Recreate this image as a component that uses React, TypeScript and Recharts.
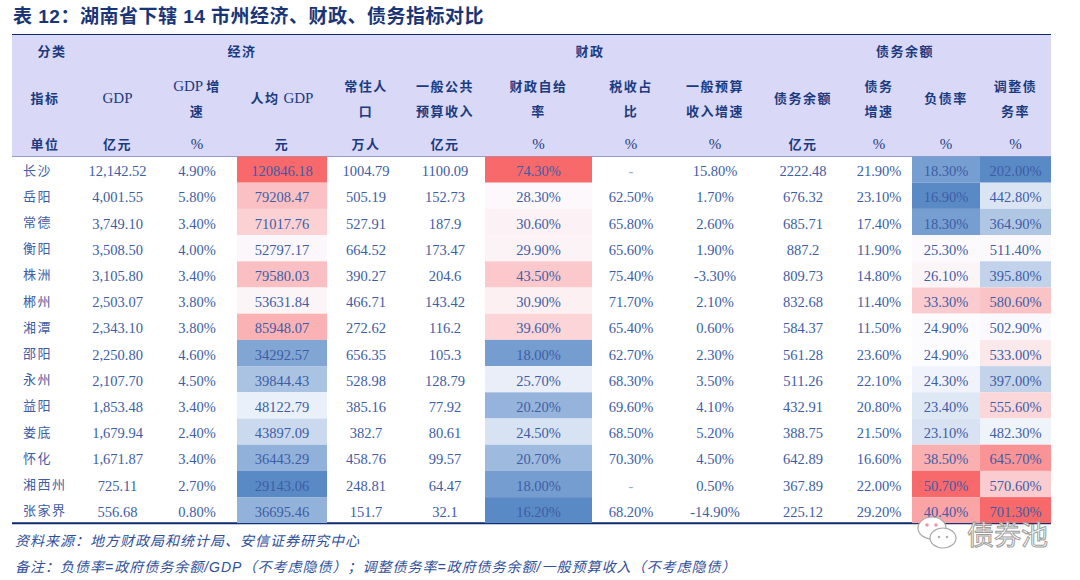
import React from "react";
import { ScatterChart, Scatter, XAxis, YAxis, ReferenceLine } from "recharts";

const cities = ["长沙", "岳阳", "常德", "衡阳", "株洲", "郴州", "湘潭", "邵阳", "永州", "益阳", "娄底", "怀化", "湘西州", "张家界"];
const gdp = [12142.52, 4001.55, 3749.1, 3508.5, 3105.8, 2503.07, 2343.1, 2250.8, 2107.7, 1853.48, 1679.94, 1671.87, 725.11, 556.68];
const gdpGrowth = [4.9, 5.8, 3.4, 4.0, 3.4, 3.8, 3.8, 4.6, 4.5, 3.4, 2.4, 3.4, 2.7, 0.8];
const gdpPerCapita = [120846.18, 79208.47, 71017.76, 52797.17, 79580.03, 53631.84, 85948.07, 34292.57, 39844.43, 48122.79, 43897.09, 36443.29, 29143.06, 36695.46];
const population = [1004.79, 505.19, 527.91, 664.52, 390.27, 466.71, 272.62, 656.35, 528.98, 385.16, 382.7, 458.76, 248.81, 151.7];
const budgetRevenue = [1100.09, 152.73, 187.9, 173.47, 204.6, 143.42, 116.2, 105.3, 128.79, 77.92, 80.61, 99.57, 64.47, 32.1];
const selfSufficiency = [74.3, 28.3, 30.6, 29.9, 43.5, 30.9, 39.6, 18.0, 25.7, 20.2, 24.5, 20.7, 18.0, 16.2];
const taxShare: (number | null)[] = [null, 62.5, 65.8, 65.6, 75.4, 71.7, 65.4, 62.7, 68.3, 69.6, 68.5, 70.3, null, 68.2];
const revenueGrowth = [15.8, 1.7, 2.6, 1.9, -3.3, 2.1, 0.6, 2.3, 3.5, 4.1, 5.2, 4.5, 0.5, -14.9];
const debt = [2222.48, 676.32, 685.71, 887.2, 809.73, 832.68, 584.37, 561.28, 511.26, 432.91, 388.75, 642.89, 367.89, 225.12];
const debtGrowth = [21.9, 23.1, 17.4, 11.9, 14.8, 11.4, 11.5, 23.6, 22.1, 20.8, 21.5, 16.6, 22.0, 29.2];
const debtRatio = [18.3, 16.9, 18.3, 25.3, 26.1, 33.3, 24.9, 24.9, 24.3, 23.4, 23.1, 38.5, 50.7, 40.4];
const adjDebtRatio = [202.0, 442.8, 364.9, 511.4, 395.8, 580.6, 502.9, 533.0, 397.0, 555.6, 482.3, 645.7, 570.6, 701.3];

const groups = ["分类", "经济", "财政", "债务余额"];
const indicators = [["指标"], ["GDP"], ["GDP 增", "速"], ["人均 GDP"], ["常住人", "口"], ["一般公共", "预算收入"], ["财政自给", "率"], ["税收占", "比"], ["一般预算", "收入增速"], ["债务余额"], ["债务", "增速"], ["负债率"], ["调整债", "务率"]];
const units = ["单位", "亿元", "%", "元", "万人", "亿元", "%", "%", "%", "亿元", "%", "%", "%"];

// ---- layout ----
const COL_W = [66, 79, 80, 90, 78, 80, 107, 78, 90, 86, 66, 68, 71];
const GROUP_X = [40, 230, 578, 893];
const LEFT = 12;
const TOP = 35;
const BODY_TOP = 156.5;
const ROW_H = 26.2;
const BOTTOM = BODY_TOP + cities.length * ROW_H;

const HEAD_BG = "#d9d9f7";
const LINE = "#0e2a6e";
const HEAD_TXT = "#1b3a80";
const BODY_TXT = "#3d5da6";
const SERIF = "'Liberation Serif', 'Times New Roman', serif";
const CJK = "'Noto Sans CJK SC', sans-serif";

const colX: number[] = [];
let acc = 0;
COL_W.forEach((w) => {
  colX.push(acc + w / 2);
  acc += w;
});
const TABLE_W = acc;
const u = (px: number) => (px - BODY_TOP) / ROW_H;

// Excel style blue-white-red scale, midpoint = median
const LOW = [90, 138, 198];
const MID = [252, 252, 255];
const HIGH = [248, 105, 107];
function median(vals: number[]) {
  const s = [...vals].sort((a, b) => a - b);
  const m = s.length / 2;
  return s.length % 2 ? s[Math.floor(m)] : (s[m - 1] + s[m]) / 2;
}
function mix(a: number[], b: number[], t: number) {
  const c = a.map((v, i) => Math.round(v + (b[i] - v) * t));
  return `rgb(${c[0]},${c[1]},${c[2]})`;
}
function heat(v: number, vals: number[]) {
  const lo = Math.min(...vals);
  const hi = Math.max(...vals);
  const md = median(vals);
  if (v <= md) return mix(MID, LOW, (md - v) / (md - lo));
  return mix(MID, HIGH, (v - md) / (hi - md));
}

const fmtComma = (v: number) => v.toLocaleString("en-US", { minimumFractionDigits: 2, maximumFractionDigits: 2 });
const fmtPct = (v: number | null) => (v == null ? "-" : v.toFixed(2) + "%");
const fmtFixed = (v: number) => v.toFixed(2);
const fmtRaw = (v: number) => String(v);

const columns: { values: any[]; fmt: (v: any) => string; heat?: boolean }[] = [
  { values: cities, fmt: String },
  { values: gdp, fmt: fmtComma },
  { values: gdpGrowth, fmt: fmtPct },
  { values: gdpPerCapita, fmt: fmtFixed, heat: true },
  { values: population, fmt: fmtRaw },
  { values: budgetRevenue, fmt: fmtRaw },
  { values: selfSufficiency, fmt: fmtPct, heat: true },
  { values: taxShare, fmt: fmtPct },
  { values: revenueGrowth, fmt: fmtPct },
  { values: debt, fmt: fmtRaw },
  { values: debtGrowth, fmt: fmtPct },
  { values: debtRatio, fmt: fmtPct, heat: true },
  { values: adjDebtRatio, fmt: fmtPct, heat: true },
];

const cellData: any[] = [];
columns.forEach((col, c) =>
  col.values.forEach((v, r) =>
    cellData.push({
      x: colX[c],
      y: r + 0.5,
      w: COL_W[c],
      text: col.fmt(v),
      fill: col.heat ? heat(v, col.values) : "none",
      first: c === 0,
      dim: v == null,
    })
  )
);

const headData: any[] = [
  ...groups.map((g, i) => ({ x: GROUP_X[i], y: u(56), lines: [g] })),
  ...indicators.map((lines, c) => ({ x: colX[c], y: u(lines.length === 1 ? 103 : 90.5), lines })),
  ...units.map((t, c) => ({ x: colX[c], y: u(148.5), lines: [t] })),
];

const bandData = [{ x: TABLE_W / 2, y: u((TOP + BODY_TOP) / 2), w: TABLE_W, h: BODY_TOP - TOP }];

function runs(s: string) {
  return s
    .split(/([\u4e00-\u9fff]+)/)
    .filter(Boolean)
    .map((t, i) =>
      /[\u4e00-\u9fff]/.test(t) ? (
        <tspan key={i} fontFamily={CJK} fontWeight={700} fontSize={13} letterSpacing={1.5}>
          {t}
        </tspan>
      ) : (
        <tspan key={i} fontFamily={SERIF} fontSize={15}>
          {t}
        </tspan>
      )
    );
}

const BandShape = (p: any) => (
  <rect x={p.cx - p.payload.w / 2} y={p.cy - p.payload.h / 2} width={p.payload.w} height={p.payload.h} fill={HEAD_BG} />
);

const CellShape = (p: any) => {
  const d = p.payload;
  return (
    <g>
      {d.fill !== "none" && <rect x={p.cx - d.w / 2} y={p.cy - ROW_H / 2} width={d.w} height={ROW_H} fill={d.fill} />}
      {d.first ? (
        <text x={p.cx - d.w / 2 + 11} y={p.cy + 5} fontFamily={CJK} fontSize={13} letterSpacing={1.5} fill={BODY_TXT} textAnchor="start">
          {d.text}
        </text>
      ) : (
        <text x={p.cx} y={p.cy + 6.5} fontFamily={SERIF} fontSize={14.5} fill={d.dim ? "#9aabcc" : BODY_TXT} textAnchor="middle">
          {d.text}
        </text>
      )}
    </g>
  );
};

const HeadShape = (p: any) => (
  <g>
    {p.payload.lines.map((l: string, i: number) => (
      <text key={i} x={p.cx} y={p.cy + i * 25.5} fill={HEAD_TXT} textAnchor="middle">
        {runs(l)}
      </text>
    ))}
  </g>
);

export default function App() {
  return (
    <div style={{ position: "absolute", left: 0, top: 0, width: 1080, height: 580, background: "#fff", overflow: "hidden" }}>
      <div
        style={{
          position: "absolute",
          left: 13,
          top: 5,
          fontFamily: "'Liberation Sans', 'Noto Sans CJK SC', sans-serif",
          fontWeight: 700,
          fontSize: 19,
          letterSpacing: 0.5,
          lineHeight: "24px",
          color: "#1a3577",
          whiteSpace: "nowrap",
        }}
      >
        表 12：湖南省下辖 14 市州经济、财政、债务指标对比
      </div>
      <div style={{ position: "absolute", left: 0, top: 0 }}>
        <ScatterChart width={1080} height={580} margin={{ top: TOP, right: 1080 - LEFT - TABLE_W, bottom: 580 - BOTTOM, left: LEFT }}>
          <XAxis type="number" dataKey="x" domain={[0, TABLE_W]} allowDataOverflow hide />
          <YAxis type="number" dataKey="y" domain={[u(TOP), cities.length]} allowDataOverflow reversed hide />
          <Scatter data={bandData} shape={BandShape} isAnimationActive={false} />
          <Scatter data={cellData} shape={CellShape} isAnimationActive={false} />
          <Scatter data={headData} shape={HeadShape} isAnimationActive={false} />
          <ReferenceLine y={u(TOP)} stroke={LINE} strokeWidth={2} ifOverflow="visible" />
          <ReferenceLine y={u(62)} stroke={LINE} strokeWidth={2} ifOverflow="visible" />
          <ReferenceLine y={u(155.5)} stroke={LINE} strokeWidth={2.5} ifOverflow="visible" />
          <ReferenceLine y={cities.length} stroke={LINE} strokeWidth={2} ifOverflow="visible" />
        </ScatterChart>
      </div>
      <div
        style={{
          position: "absolute",
          left: 15,
          top: 530,
          fontFamily: CJK,
          fontStyle: "italic",
          fontSize: 14,
          letterSpacing: 1,
          lineHeight: "20px",
          color: "#2f4f9a",
          whiteSpace: "nowrap",
        }}
      >
        资料来源：地方财政局和统计局、安信证券研究中心
      </div>
      <div
        style={{
          position: "absolute",
          left: 15,
          top: 557,
          fontFamily: "'Liberation Sans', 'Noto Sans CJK SC', sans-serif",
          fontStyle: "italic",
          fontSize: 14,
          letterSpacing: 1,
          lineHeight: "20px",
          color: "#2f4f9a",
          whiteSpace: "nowrap",
        }}
      >
        备注：负债率=政府债务余额/GDP（不考虑隐债）；调整债务率=政府债务余额/一般预算收入（不考虑隐债）
      </div>
      <svg style={{ position: "absolute", left: 912, top: 512 }} width={140} height={44}>
        <ellipse cx={20} cy={16} rx={14} ry={11} fill="#fff" stroke="#a8a8a8" strokeWidth={1.2} />
        <ellipse cx={31} cy={26} rx={13} ry={10} fill="#fff" stroke="#a8a8a8" strokeWidth={1.2} />
        <circle cx={15} cy={13} r={1.8} fill="#e89aa5" />
        <circle cx={24} cy={13} r={1.8} fill="#e89aa5" />
        <circle cx={27} cy={25} r={1.3} fill="#b0b0b0" />
        <circle cx={35} cy={25} r={1.3} fill="#b0b0b0" />
        <text x={55} y={33} fontFamily={CJK} fontSize={27} fill="#fff" stroke="#9c9c9c" strokeWidth={1}>
          债券池
        </text>
      </svg>
    </div>
  );
}
